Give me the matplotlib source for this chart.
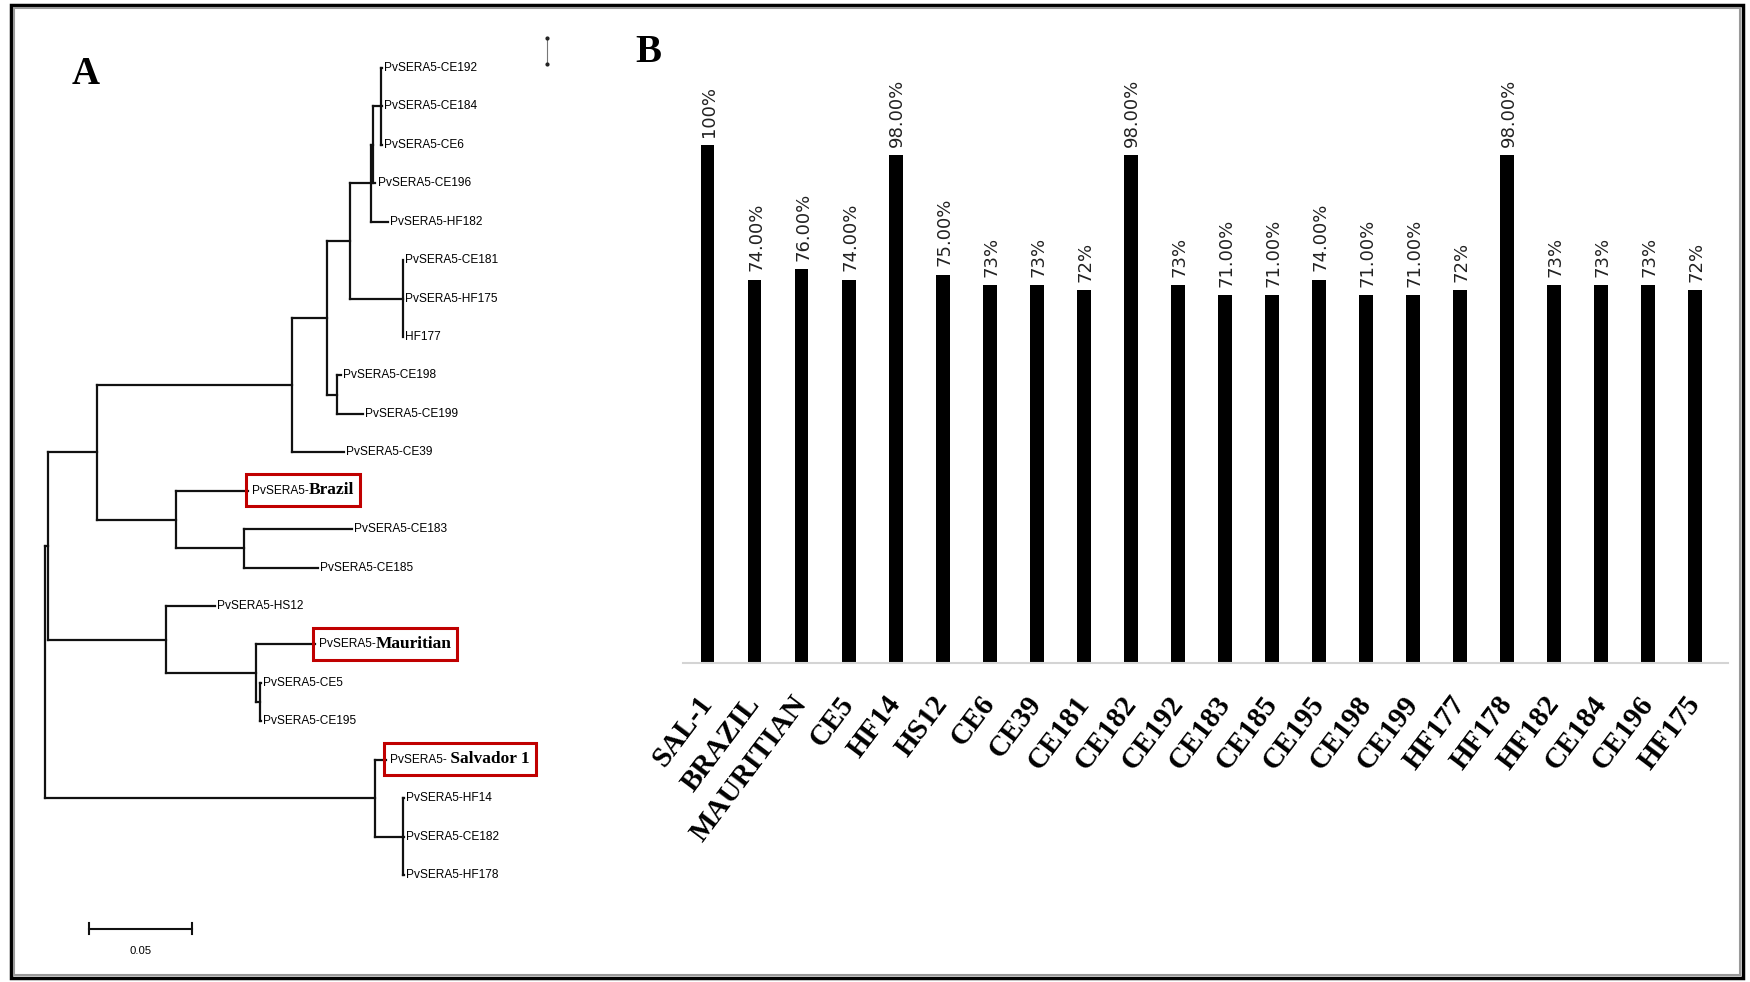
import matplotlib
matplotlib.use('Agg')
import matplotlib.pyplot as plt
from matplotlib import font_manager
from matplotlib.patches import Rectangle
from matplotlib.lines import Line2D
from matplotlib.transforms import Bbox

# ---- panel A: neighbour-joining tree (branch lengths in subst./site) ----
tree_newick = """
(((((((((CE192:0.0005,CE184:0.0005,CE6:0.0005):0.0038,CE196:0.001):0.001,
HF182:0.0082):0.0103,(CE181:0.0003,HF175:0.0003,HF177:0.0003):0.0255):0.0114,
(CE198:0.002,CE199:0.0125):0.0049):0.0168,CE39:0.025):0.0951,
(Brazil:0.0348,(CE183:0.0522,CE185:0.0359):0.0332):0.0386):0.0239,
(HS12:0.0239,(Mauritian:0.0288,(CE5:0.0005,CE195:0.0005):0.0022):0.0435):0.0576):0.0016,
(Salvador:0.005,(HF14:0.0005,CE182:0.0005,HF178:0.0005):0.0136):0.161);
"""
plain_names = {'HF177': 'HF177'}
highlighted = {'Brazil': ('PvSERA5-', 'Brazil'),
               'Mauritian': ('PvSERA5-', 'Mauritian'),
               'Salvador': ('PvSERA5-', ' Salvador 1')}
scale_bar = 0.05

# ---- panel B: identity with SAL-1 ----
isolates = ['SAL-1', 'BRAZIL', 'MAURITIAN', 'CE5', 'HF14', 'HS12', 'CE6', 'CE39',
            'CE181', 'CE182', 'CE192', 'CE183', 'CE185', 'CE195', 'CE198', 'CE199',
            'HF177', 'HF178', 'HF182', 'CE184', 'CE196', 'HF175']
identity = [100, 74, 76, 74, 98, 75, 73, 73, 72, 98, 73, 71, 71, 74, 71, 71,
            72, 98, 73, 73, 73, 72]
identity_labels = ['100%', '74.00%', '76.00%', '74.00%', '98.00%', '75.00%', '73%', '73%',
                   '72%', '98.00%', '73%', '71.00%', '71.00%', '74.00%', '71.00%', '71.00%',
                   '72%', '98.00%', '73%', '73%', '73%', '72%']

# a narrow face for the MEGA-style leaf labels if there is one
installed = {f.name for f in font_manager.fontManager.ttflist}
if 'Liberation Sans Narrow' in installed:
    NARROW, leaf_fs = ['Liberation Sans Narrow', 'DejaVu Sans'], 10.3
else:
    NARROW, leaf_fs = ['Liberation Sans', 'DejaVu Sans'], 8.6
SERIF = ['Liberation Serif', 'DejaVu Serif']


def parse_newick(s):
    s = ''.join(s.split())
    pos = 0

    def node():
        nonlocal pos
        kids = []
        if s[pos] == '(':
            pos += 1
            while True:
                kids.append(node())
                if s[pos] == ',':
                    pos += 1
                    continue
                pos += 1
                break
        start = pos
        while s[pos] not in ':,);':
            pos += 1
        name = s[start:pos]
        length = 0.0
        if s[pos] == ':':
            pos += 1
            start = pos
            while s[pos] not in ',);':
                pos += 1
            length = float(s[start:pos])
        return {'name': name, 'len': length, 'kids': kids}

    return node()


def layout(nd, x0, leaves):
    nd['x'] = x0 + nd['len']
    if not nd['kids']:
        nd['y'] = len(leaves)
        leaves.append(nd)
    else:
        for k in nd['kids']:
            layout(k, nd['x'], leaves)
        nd['y'] = (nd['kids'][0]['y'] + nd['kids'][-1]['y']) / 2


def draw_tree(ax, nd):
    for k in nd['kids']:
        ax.plot([nd['x'], k['x']], [k['y'], k['y']], color='#111', lw=1.6,
                solid_capstyle='projecting')
        draw_tree(ax, k)
    if nd['kids']:
        ax.plot([nd['x'], nd['x']], [nd['kids'][0]['y'], nd['kids'][-1]['y']],
                color='#111', lw=1.6, solid_capstyle='projecting')


W, H = 1750, 982
fig = plt.figure(figsize=(W / 100, H / 100), dpi=100)

# tree axes, geometry in pixels of the reference
root_px, px_unit = 44.6, 2054.0
leaf0_px, leaf_step = 68.0, 38.43
tw = 620
ax_t = fig.add_axes([0, 0, tw / W, 1])
ax_t.set_xlim(-root_px / px_unit, (tw - root_px) / px_unit)
ax_t.set_ylim((H - leaf0_px) / leaf_step, -leaf0_px / leaf_step)
ax_t.axis('off')

root = parse_newick(tree_newick)
root['len'] = 0.0
leaves = []
layout(root, 0.0, leaves)
draw_tree(ax_t, root)

boxes = []
for lf in leaves:
    key = lf['name']
    if key in highlighted:
        pre, bold = highlighted[key]
        t1 = ax_t.annotate(pre, (lf['x'], lf['y']), xytext=(3, 0), textcoords='offset points',
                           va='center', ha='left', fontsize=leaf_fs, family=NARROW)
        t2 = ax_t.annotate(bold, (1, 0.5), xycoords=t1, xytext=(0, 0.5),
                           textcoords='offset points', va='center', ha='left',
                           fontsize=12.5, weight='bold', family=SERIF)
        boxes.append((t1, t2))
    else:
        label = plain_names.get(key, 'PvSERA5-' + key)
        ax_t.annotate(label, (lf['x'], lf['y']), xytext=(1.5, 0), textcoords='offset points',
                      va='center', ha='left', fontsize=leaf_fs, family=NARROW)

# scale bar
sb_y = (928.5 - leaf0_px) / leaf_step
sb_x0 = (89.3 - root_px) / px_unit
ax_t.plot([sb_x0, sb_x0 + scale_bar], [sb_y, sb_y], color='#111', lw=1.5)
for xx in (sb_x0, sb_x0 + scale_bar):
    ax_t.plot([xx, xx], [sb_y - 0.15, sb_y + 0.15], color='#111', lw=1.5)
ax_t.text(sb_x0 + scale_bar / 2, sb_y + 0.45, '%g' % scale_bar, ha='center', va='top',
          fontsize=leaf_fs - 0.5, family=NARROW)

# bar axes
bar0_px, bar_step = 707.6, 47.03
bx0, bx1, base_px, top_px = 683, 1728, 663, 40
px_pct = 5.179
ax_b = fig.add_axes([bx0 / W, (H - base_px) / H, (bx1 - bx0) / W, (base_px - top_px) / H])
xs = list(range(len(isolates)))
ax_b.bar(xs, identity, width=0.29, color='black')
ax_b.set_xlim(-(bar0_px - bx0) / bar_step, (bx1 - bar0_px) / bar_step)
ax_b.set_ylim(0, (base_px - top_px) / px_pct)
for x, v, lab in zip(xs, identity, identity_labels):
    ax_b.annotate(lab, (x, v), xytext=(1, 6), textcoords='offset points', rotation=90,
                  ha='center', va='bottom', fontsize=13, color='#222', family='DejaVu Sans')
for s in ('top', 'right', 'left'):
    ax_b.spines[s].set_visible(False)
ax_b.spines['bottom'].set_color('#d4d4d4')
ax_b.spines['bottom'].set_linewidth(1.5)
ax_b.set_yticks([])
ax_b.set_xticks(xs, isolates, rotation=53, ha='right', va='center', rotation_mode='anchor',
                fontsize=21, fontweight='bold', family=SERIF)
ax_b.tick_params(axis='x', length=0, pad=26)

# panel letters and small artefact mark
fig.text(86 / W, 1 - 74 / H, 'A', fontsize=28, weight='bold', family=SERIF, ha='center', va='center')
fig.text(648 / W, 1 - 52 / H, 'B', fontsize=28, weight='bold', family=SERIF, ha='center', va='center')
fig.add_artist(Line2D([547 / W, 547 / W], [1 - 38 / H, 1 - 64 / H], color='#777', lw=0.8,
                      marker='o', markersize=2, markerfacecolor='#222', markeredgecolor='#222'))

# outer frame with a soft inner shadow
fig.add_artist(Rectangle((11 / W, 4 / H), (1743 - 11) / W, (977 - 4) / H,
                         transform=fig.transFigure, fill=False, ec='black', lw=2.5))
fig.add_artist(Rectangle((14 / W, 7 / H), (1740 - 14) / W, (974 - 7) / H,
                         transform=fig.transFigure, fill=False, ec='#9a9a9a', lw=1.5))

# red boxes around reference strains
fig.canvas.draw()
rend = fig.canvas.get_renderer()
for t1, t2 in boxes:
    bb = Bbox.union([t1.get_window_extent(rend), t2.get_window_extent(rend)])
    yc = (bb.y0 + bb.y1) / 2
    x0, x1 = bb.x0 - 6, bb.x1 + 6
    y0, y1 = yc - 16, yc + 16
    fig.add_artist(Rectangle((x0 / W, y0 / H), (x1 - x0) / W, (y1 - y0) / H,
                             transform=fig.transFigure, fill=False, ec='#c00000', lw=2.2))

fig.savefig('out.png', dpi=100, facecolor='white')
